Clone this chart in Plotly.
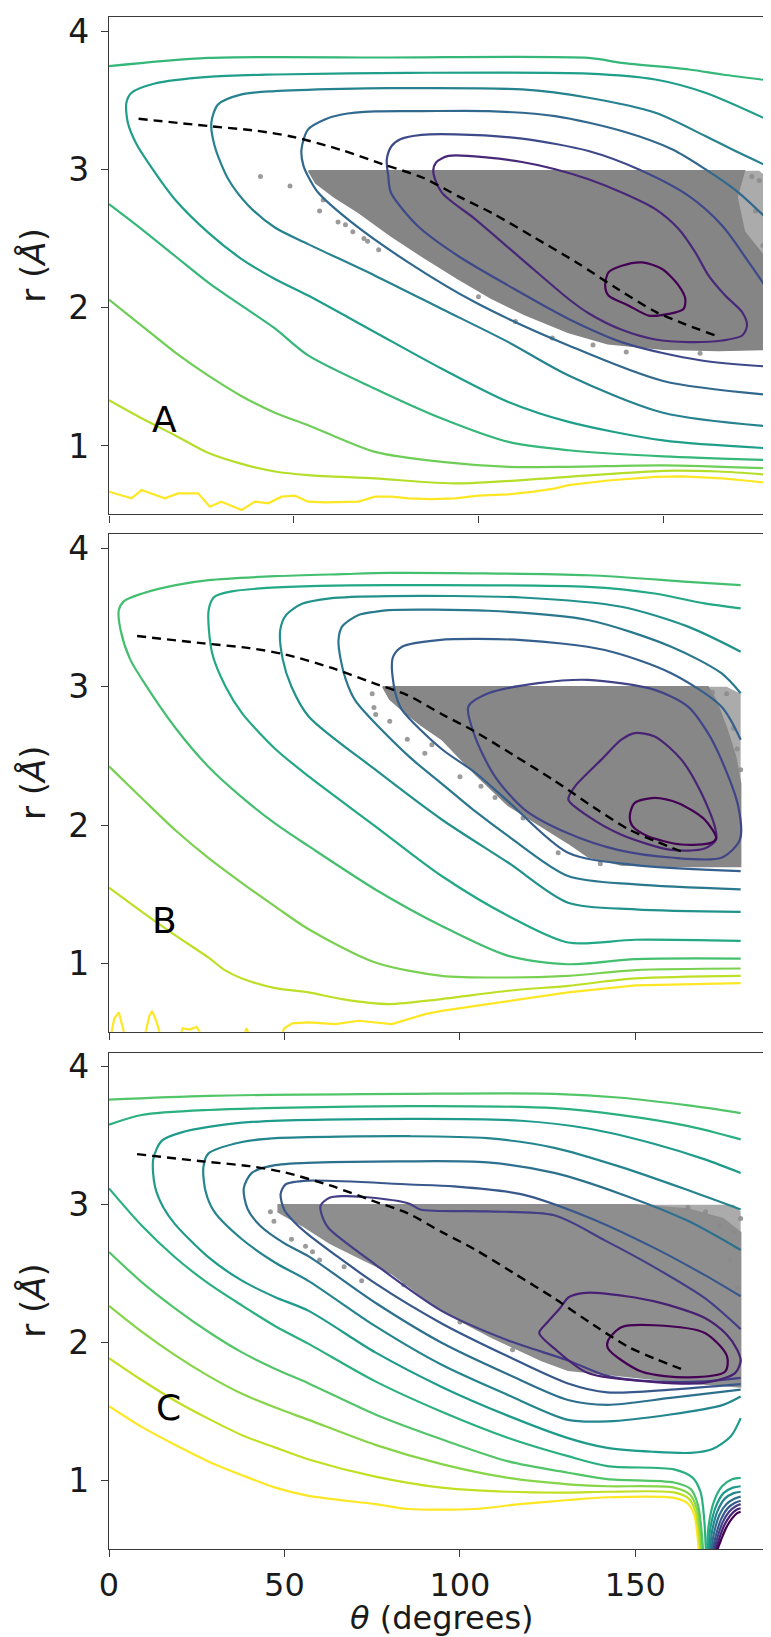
import plotly.graph_objects as go

# ---------------- shared data ----------------
x_ticks = [0, 50, 100, 150]
y_ticks = [1, 2, 3, 4]
panel_letters = ["A", "B", "C"]
letter_theta = [15.1, 15.8, 16.9]
letter_r = [1.19, 1.31, 1.53]

dash_theta = [8, 27, 40, 50, 63, 75, 85, 95, 104, 115, 127, 138, 148, 156, 164]
dash_r = [3.367, 3.314, 3.28, 3.235, 3.14, 3.03, 2.94, 2.80, 2.68, 2.51, 2.32, 2.13, 1.97, 1.88, 1.80]

# ---------------- panel A ----------------
a1_t = [134.3, 135.2, 138.8, 144.3, 149.7, 154.2, 156.0, 155.5, 151.5, 146.1, 140.7, 135.2, 134.3]
a1_r = [2.160, 2.256, 2.304, 2.328, 2.280, 2.160, 2.063, 1.991, 1.955, 1.943, 2.015, 2.088, 2.160]
a2_t = [87.8, 88.5, 91.9, 102.7, 111.8, 120.8, 129.8, 138.8, 147.9, 154.2, 158.7, 162.3, 166.8, 171.4, 172.7, 171.4, 166.0, 156.9, 147.9, 138.8, 129.8, 124.4, 111.7, 99.1, 90.1, 87.8]
a2_r = [2.977, 3.050, 3.098, 3.086, 3.054, 3.002, 2.929, 2.833, 2.713, 2.569, 2.400, 2.232, 2.088, 1.967, 1.871, 1.799, 1.763, 1.751, 1.770, 1.840, 1.960, 2.063, 2.352, 2.641, 2.833, 2.977]
a3_t = [180, 173.2, 166.0, 156.9, 143.3, 129.8, 111.8, 93.7, 84.6, 79.0, 76.5, 75.2, 75.6, 76.3, 83.5, 94.4, 108.1, 124.4, 140, 160, 180]
a3_r = [2.063, 2.328, 2.593, 2.809, 3.002, 3.134, 3.223, 3.254, 3.25, 3.22, 3.17, 3.074, 2.95, 2.833, 2.593, 2.376, 2.160, 1.919, 1.74, 1.62, 1.571]
a4_t = [180, 170.4, 161.4, 152.4, 138.8, 120.8, 102.7, 84.6, 72.0, 63.0, 58.4, 53.9, 52.1, 52.6, 54.5, 56.6, 65.7, 81.0, 99.1, 124.4, 150, 180]
a4_r = [2.593, 2.833, 3.002, 3.146, 3.278, 3.386, 3.422, 3.422, 3.420, 3.398, 3.362, 3.290, 3.146, 3.03, 2.92, 2.833, 2.617, 2.328, 2.039, 1.727, 1.47, 1.366]
a5_t = [180, 170.4, 161.4, 147.9, 129.8, 111.8, 75.6, 63.0, 44.9, 35.9, 29.5, 27.7, 28.6, 32.3, 37.7, 44.9, 53.9, 72.0, 90.1, 108.1, 124.4, 150, 180]
a5_r = [3.002, 3.122, 3.242, 3.410, 3.519, 3.579, 3.588, 3.583, 3.567, 3.543, 3.470, 3.338, 3.170, 2.929, 2.74, 2.58, 2.460, 2.232, 1.991, 1.751, 1.510, 1.24, 1.138]
a6_t = [180, 161.4, 147.9, 129.8, 81.0, 44.9, 26.8, 12.4, 6.1, 4.7, 5.1, 7.5, 10.6, 17.8, 26.8, 35.9, 44.9, 53.9, 72.0, 90.1, 108.1, 124.4, 150, 180]
a6_r = [3.338, 3.555, 3.651, 3.694, 3.699, 3.687, 3.670, 3.622, 3.555, 3.482, 3.338, 3.18, 3.050, 2.785, 2.545, 2.352, 2.208, 2.088, 1.823, 1.558, 1.318, 1.174, 1.04, 0.981]
a7t_t = [0, 26.8, 75.6, 129.8, 138.8, 157, 166, 180]
a7t_r = [3.747, 3.807, 3.810, 3.807, 3.771, 3.723, 3.687, 3.639]
a7b_t = [0, 8.8, 17.8, 26.8, 35.9, 44.9, 53.9, 72.0, 90.1, 108.1, 124.4, 150, 180]
a7b_r = [2.749, 2.569, 2.376, 2.184, 2.015, 1.85, 1.655, 1.414, 1.198, 1.029, 0.969, 0.925, 0.897]
a8_t = [0, 8.8, 17.8, 26.8, 35.9, 44.9, 53.9, 72.0, 90.1, 108.1, 124.4, 150, 180]
a8_r = [2.059, 1.871, 1.679, 1.510, 1.36, 1.24, 1.150, 0.957, 0.885, 0.849, 0.849, 0.86, 0.837]
a9_t = [0, 8.8, 17.8, 26.8, 35.9, 44.9, 53.9, 72.0, 94.6, 124.4, 150, 165, 180]
a9_r = [1.33, 1.2, 1.078, 0.95, 0.87, 0.815, 0.789, 0.765, 0.729, 0.777, 0.82, 0.815, 0.789]
a10_t = [0, 6.1, 8.8, 15.1, 18.7, 24.1, 27.3, 30.4, 35.9, 39.5, 43.1, 46.7, 50.3, 53.9, 58.4, 63, 67.5, 72, 76.5, 81, 87, 93.7, 100, 108, 115, 120.8, 124.4, 135, 147.9, 155, 166, 172, 180]
a10_r = [0.669, 0.621, 0.681, 0.621, 0.657, 0.657, 0.561, 0.597, 0.537, 0.597, 0.585, 0.633, 0.640, 0.597, 0.592, 0.597, 0.597, 0.633, 0.633, 0.621, 0.615, 0.621, 0.64, 0.65, 0.67, 0.693, 0.717, 0.75, 0.777, 0.78, 0.765, 0.75, 0.729]
a_gray_t = [54, 172, 170, 172, 178, 180, 180, 165, 150, 135, 124.4, 112.5, 103.4, 94.4, 85.4, 76.3, 67.5, 61, 56, 54]
a_gray_r = [2.99, 2.99, 2.8, 2.55, 2.35, 2.2, 1.70, 1.69, 1.70, 1.74, 1.82, 1.95, 2.07, 2.21, 2.36, 2.52, 2.69, 2.80, 2.90, 2.99]
a_light_t = [168, 176, 180, 180, 168]
a_light_r = [2.99, 2.99, 2.9, 1.9, 1.9]
a_dots_t = [41, 49, 58, 62, 66, 70, 73, 176, 178, 179, 175, 177, 179.5, 110, 120, 140, 160, 174, 57, 64, 69, 100, 131]
a_dots_r = [2.95, 2.88, 2.78, 2.62, 2.55, 2.48, 2.42, 2.92, 2.80, 2.62, 2.70, 2.45, 2.25, 1.90, 1.78, 1.68, 1.67, 2.95, 2.70, 2.60, 2.50, 2.08, 1.73]

# ---------------- panel B ----------------
b1_t = [148.4, 149.8, 155.5, 162.1, 169.7, 173.0, 171.6, 163.1, 153.6, 149.2, 148.4]
b1_r = [2.064, 2.160, 2.196, 2.160, 2.040, 1.907, 1.871, 1.859, 1.919, 1.992, 2.064]
b2_t = [130.9, 132.8, 140.3, 146.0, 149.8, 155.5, 163.1, 168.8, 172.6, 173.0, 169.7, 160.2, 146.0, 136.5, 130.9]
b2_r = [2.184, 2.280, 2.473, 2.617, 2.665, 2.641, 2.473, 2.232, 1.992, 1.895, 1.83, 1.82, 1.93, 2.064, 2.184]
b3_t = [102.4, 108.1, 122.3, 136.5, 155.5, 165.0, 170.7, 174.5, 179.3, 179.8, 174.5, 160, 145, 130.8, 118.5, 110, 104.3, 102.4]
b3_r = [2.857, 2.953, 3.026, 3.050, 2.978, 2.857, 2.665, 2.473, 2.136, 1.895, 1.763, 1.765, 1.82, 1.94, 2.11, 2.35, 2.64, 2.857]
b4_t = [180, 174.5, 160.2, 141.3, 117.6, 93.9, 83.5, 81.0, 80.6, 81.6, 83.5, 94.8, 104.3, 113.8, 130.8, 150, 180]
b4_r = [2.617, 2.857, 3.098, 3.266, 3.338, 3.338, 3.290, 3.22, 3.146, 2.953, 2.833, 2.55, 2.38, 2.17, 1.80, 1.71, 1.667]
b5_t = [180, 174.5, 160.2, 136.5, 108.1, 79.7, 75.9, 71.1, 66.4, 65.4, 66.0, 67.5, 70.2, 85.3, 94.8, 104.3, 113.8, 130.8, 150, 180]
b5_r = [2.953, 3.098, 3.290, 3.483, 3.550, 3.555, 3.543, 3.519, 3.435, 3.338, 3.20, 3.05, 2.90, 2.50, 2.30, 2.10, 1.92, 1.631, 1.57, 1.535]
b6_t = [180, 165, 146, 117.6, 79.7, 63, 55, 50.5, 48.8, 49.5, 52, 56.9, 75.9, 94.8, 113.8, 130.8, 150, 180]
b6_r = [3.254, 3.435, 3.579, 3.646, 3.656, 3.64, 3.60, 3.52, 3.41, 3.20, 3.0, 2.785, 2.40, 2.04, 1.727, 1.438, 1.39, 1.371]
b7_t = [180, 169.7, 155.5, 136.5, 79.7, 60, 45, 35, 30, 28.4, 29.4, 33.2, 37.9, 47.4, 56.9, 75.9, 94.8, 113.8, 130.8, 150, 180]
b7_r = [3.567, 3.603, 3.675, 3.723, 3.735, 3.73, 3.715, 3.69, 3.65, 3.555, 3.242, 3.002, 2.81, 2.55, 2.352, 1.991, 1.631, 1.342, 1.150, 1.17, 1.162]
b8_t = [180, 165, 136.5, 79.7, 66.4, 47.4, 28.4, 19, 9.5, 4.3, 2.8, 3.3, 6, 9.5, 19, 28.4, 37.9, 47.4, 56.9, 75.9, 94.8, 113.8, 130.8, 150, 180]
b8_r = [3.735, 3.759, 3.807, 3.824, 3.815, 3.80, 3.771, 3.735, 3.675, 3.62, 3.555, 3.411, 3.2, 3.05, 2.70, 2.42, 2.20, 2.01, 1.847, 1.534, 1.270, 1.053, 0.993, 1.03, 1.034]
b9_t = [0, 9.5, 19, 28.4, 37.9, 47.4, 56.9, 75.9, 94.8, 113.8, 130.8, 150, 180]
b9_r = [2.424, 2.19, 1.96, 1.76, 1.58, 1.41, 1.246, 1.005, 0.909, 0.897, 0.909, 0.95, 0.962]
b10_t = [0, 9.5, 19, 28.4, 33, 37.9, 47.4, 56.9, 66.4, 79.7, 94.8, 113.8, 130.8, 150, 180]
b10_r = [1.547, 1.37, 1.2, 1.04, 0.95, 0.89, 0.82, 0.789, 0.741, 0.705, 0.741, 0.801, 0.837, 0.89, 0.909]
b11_t = [0.3, 1.5, 2.8, 3.8, 4.8, None, 10, 11.5, 12.3, 13.5, 15, None, 20, 21, 23, 25, 27, None, 38, 39.2, 40.5, None,
         48.5, 50, 52.2, 56.9, 64.5, 71.1, 80.6, 90.1, 94.8, 113.8, 130.8, 150, 180]
b11_r = [0.45, 0.6, 0.645, 0.55, 0.45, None, 0.45, 0.62, 0.655, 0.58, 0.45, None, 0.45, 0.53, 0.52, 0.54, 0.45, None, 0.45, 0.53, 0.45, None,
         0.45, 0.53, 0.565, 0.572, 0.56, 0.584, 0.56, 0.632, 0.656, 0.729, 0.789, 0.84, 0.856]
b_gray_t = [78, 170.7, 173, 176, 178.5, 180, 180, 160, 146, 136.5, 130.8, 123.3, 113.8, 104.3, 94.8, 89, 84, 80, 78]
b_gray_r = [3.0, 3.0, 2.9, 2.7, 2.5, 2.3, 1.70, 1.70, 1.71, 1.77, 1.87, 1.99, 2.14, 2.37, 2.62, 2.72, 2.82, 2.91, 3.0]
b_light_t = [168, 176, 180, 180, 168]
b_light_r = [3.0, 3.0, 2.95, 2.2, 2.2]
b_dots_t = [75, 75.5, 76, 80, 85, 90, 100, 110, 118, 176, 178, 179, 180, 172, 128, 140, 92, 106]
b_dots_r = [2.95, 2.85, 2.80, 2.75, 2.62, 2.52, 2.35, 2.2, 2.05, 2.95, 2.7, 2.55, 2.4, 2.96, 1.80, 1.72, 2.58, 2.28]

# ---------------- panel C ----------------
c0_t = [142.2, 146, 155.5, 169.8, 176.1, 175.6, 165.1, 151.7, 142.2, 142.2]
c0_r = [2.015, 2.113, 2.127, 2.071, 1.903, 1.791, 1.749, 1.791, 1.959, 2.015]
c1_t = [122.6, 125, 128.5, 131, 135, 140, 155.5, 169.8, 176, 179, 180, 178.4, 169.8, 155.5, 136.5, 126.9, 122.6]
c1_r = [2.071, 2.15, 2.25, 2.33, 2.36, 2.36, 2.30, 2.18, 2.06, 1.95, 1.87, 1.78, 1.71, 1.715, 1.78, 1.959, 2.071]
c2_t = [180, 169.8, 155.5, 141.3, 126.9, 107.8, 88.7, 85.6, 76, 66.5, 62.7, 60.3, 61, 62.6, 75.9, 94.8, 113.8, 130.8, 142, 155, 170, 180]
c2_r = [2.099, 2.323, 2.546, 2.742, 2.924, 2.952, 2.966, 3.008, 3.049, 3.063, 3.05, 2.994, 2.90, 2.83, 2.567, 2.231, 2.016, 1.872, 1.76, 1.72, 1.72, 1.745]
c3_t = [180, 169.8, 155.5, 136.5, 117.4, 98.3, 85.6, 57, 50.3, 48.9, 50, 53, 56.9, 75.9, 94.8, 113.8, 130.8, 142, 160, 180]
c3_r = [2.337, 2.490, 2.686, 2.910, 3.077, 3.133, 3.147, 3.175, 3.147, 3.077, 2.96, 2.87, 2.782, 2.43, 2.14, 1.90, 1.705, 1.64, 1.66, 1.70]
c4_t = [180, 165.1, 146, 126.9, 107.8, 85.6, 47.4, 40.7, 38.4, 39.5, 43, 50, 56.9, 75.9, 94.8, 113.8, 130.8, 142, 160, 180]
c4_r = [2.672, 2.882, 3.077, 3.231, 3.307, 3.315, 3.287, 3.231, 3.119, 2.97, 2.85, 2.72, 2.626, 2.29, 2.00, 1.77, 1.585, 1.55, 1.60, 1.66]
c5_t = [180, 165.1, 146, 126.9, 107.8, 85.6, 47.4, 37.9, 28.3, 26.9, 27.5, 30, 37.9, 47.4, 56.9, 75.9, 94.8, 113.8, 130.8, 142, 160, 175, 180]
c5_r = [2.966, 3.105, 3.273, 3.413, 3.483, 3.497, 3.483, 3.455, 3.371, 3.273, 3.10, 2.95, 2.75, 2.58, 2.447, 2.12, 1.84, 1.62, 1.441, 1.43, 1.48, 1.55, 1.61]
c6_t = [180, 169.8, 155.5, 136.5, 117.4, 85.6, 37.9, 20.7, 15, 12.6, 13.1, 15.5, 18.8, 28.3, 37.9, 47.4, 56.9, 75.9, 94.8, 113.8, 130.8, 142, 155, 165.8, 172, 177.2, 180]
c6_r = [3.231, 3.329, 3.441, 3.553, 3.609, 3.623, 3.595, 3.525, 3.463, 3.329, 3.133, 2.98, 2.86, 2.62, 2.45, 2.33, 2.231, 1.93, 1.68, 1.47, 1.309, 1.238, 1.21, 1.202, 1.23, 1.322, 1.454]
c7t_t = [0, 9.3, 28.3, 85.6, 126.9, 146, 165.1, 180]
c7t_r = [3.581, 3.651, 3.687, 3.715, 3.700, 3.650, 3.57, 3.474]
c7b_t = [0, 9.3, 18.8, 28.3, 37.9, 47.4, 56.9, 75.9, 94.8, 113.8, 130.8, 142, 161, 166.3, 168.6, 169.6, 170.1]
c7b_r = [3.119, 2.85, 2.62, 2.43, 2.27, 2.12, 1.992, 1.72, 1.50, 1.31, 1.178, 1.106, 1.082, 1.022, 0.915, 0.723, 0.49]
c8t_t = [0, 28.3, 85.6, 126.9, 146, 165.1, 180]
c8t_r = [3.762, 3.79, 3.804, 3.804, 3.776, 3.720, 3.665]
c8b_t = [0, 9.3, 18.8, 28.3, 37.9, 47.4, 56.9, 75.9, 94.8, 113.8, 130.8, 142, 161, 165.8, 167.9, 168.8, 169.3]
c8b_r = [2.658, 2.44, 2.25, 2.08, 1.93, 1.81, 1.705, 1.48, 1.30, 1.14, 1.058, 1.011, 0.987, 0.939, 0.819, 0.651, 0.49]
c9_t = [0, 9.3, 18.8, 28.3, 37.9, 47.4, 56.9, 75.9, 94.8, 113.8, 130.8, 142, 161, 165.5, 167.5, 168.4, 168.9]
c9_r = [2.267, 2.08, 1.91, 1.76, 1.63, 1.53, 1.441, 1.26, 1.12, 1.02, 0.974, 0.96, 0.95, 0.90, 0.80, 0.65, 0.49]
c10_t = [0, 9.3, 18.8, 28.3, 37.9, 47.4, 56.9, 75.9, 94.8, 113.8, 130.8, 142, 161, 165.2, 167.1, 168, 168.5]
c10_r = [1.889, 1.73, 1.58, 1.45, 1.33, 1.24, 1.154, 1.03, 0.95, 0.92, 0.914, 0.92, 0.915, 0.87, 0.78, 0.64, 0.49]
c11_t = [0, 9.3, 18.8, 28.3, 37.9, 47.4, 56.9, 75.9, 85.3, 104.3, 117, 130.8, 142, 161, 164.9, 166.8, 167.6, 168.1]
c11_r = [1.540, 1.39, 1.26, 1.14, 1.04, 0.95, 0.890, 0.83, 0.795, 0.795, 0.83, 0.86, 0.88, 0.875, 0.835, 0.75, 0.62, 0.49]
# funnel branches rising to the right edge
cr7_t = [170.4, 170.9, 172.4, 174.7, 177.6, 180]
cr7_r = [0.49, 0.68, 0.85, 0.96, 1.01, 1.02]
cr6_t = [170.8, 171.4, 172.9, 175.1, 177.8, 180]
cr6_r = [0.49, 0.66, 0.81, 0.91, 0.95, 0.96]
cr5_t = [171.2, 171.9, 173.4, 175.5, 178.0, 180]
cr5_r = [0.49, 0.64, 0.78, 0.87, 0.91, 0.92]
cr4_t = [171.6, 172.4, 173.9, 175.9, 178.2, 180]
cr4_r = [0.49, 0.62, 0.75, 0.83, 0.87, 0.885]
cr3_t = [172.0, 172.9, 174.4, 176.3, 178.4, 180]
cr3_r = [0.49, 0.60, 0.72, 0.80, 0.84, 0.855]
cr2_t = [172.4, 173.4, 174.9, 176.7, 178.6, 180]
cr2_r = [0.49, 0.59, 0.70, 0.775, 0.815, 0.83]
cr1_t = [172.8, 173.9, 175.4, 177.1, 178.8, 180]
cr1_r = [0.49, 0.58, 0.68, 0.75, 0.79, 0.80]
cr0_t = [173.2, 174.4, 175.9, 177.5, 179.0, 180]
cr0_r = [0.49, 0.57, 0.66, 0.725, 0.765, 0.775]
c_gray_t = [48, 150, 165, 175, 180, 180, 165, 146, 136.5, 130.8, 123.3, 109, 94.8, 80.6, 71, 63, 55, 48]
c_gray_r = [3.0, 3.0, 2.97, 2.9, 2.8, 1.68, 1.71, 1.76, 1.79, 1.80, 1.87, 2.04, 2.23, 2.50, 2.62, 2.72, 2.85, 2.95]
c_light_t = [150, 178, 180, 180, 150]
c_light_r = [3.0, 3.0, 2.95, 2.3, 2.3]
c_dots_t = [46, 47, 52, 56, 60, 67, 72, 170, 174, 178, 180, 177, 179, 165, 100, 115, 84, 58]
c_dots_r = [2.95, 2.88, 2.75, 2.70, 2.60, 2.55, 2.45, 2.95, 2.85, 2.8, 2.9, 2.6, 2.4, 2.98, 2.15, 1.95, 2.42, 2.66]

# ---------------- colours (viridis levels) ----------------
vir_a = ["#440154", "#482878", "#3e4989", "#31688e", "#26828e", "#1f9e89", "#35b779", "#6ece58", "#b5de2b", "#fde725"]
vir_b = ["#440154", "#482475", "#414487", "#355f8d", "#2a788e", "#21918c", "#22a884", "#44bf70", "#7ad151", "#bddf26", "#fde725"]
vir_c = ["#440154", "#482173", "#433e85", "#38588c", "#2d708e", "#25858e", "#1e9b8a", "#2ab07f", "#52c569", "#86d549", "#c2df23", "#fde725"]

lines_a = [(a10_t, a10_r, vir_a[9], "linear"), (a9_t, a9_r, vir_a[8], "spline"), (a8_t, a8_r, vir_a[7], "spline"),
           (a7t_t, a7t_r, vir_a[6], "spline"), (a7b_t, a7b_r, vir_a[6], "spline"), (a6_t, a6_r, vir_a[5], "spline"),
           (a5_t, a5_r, vir_a[4], "spline"), (a4_t, a4_r, vir_a[3], "spline"), (a3_t, a3_r, vir_a[2], "spline"),
           (a2_t, a2_r, vir_a[1], "spline"), (a1_t, a1_r, vir_a[0], "spline")]
lines_b = [(b11_t, b11_r, vir_b[10], "linear"), (b10_t, b10_r, vir_b[9], "spline"), (b9_t, b9_r, vir_b[8], "spline"),
           (b8_t, b8_r, vir_b[7], "spline"), (b7_t, b7_r, vir_b[6], "spline"), (b6_t, b6_r, vir_b[5], "spline"),
           (b5_t, b5_r, vir_b[4], "spline"), (b4_t, b4_r, vir_b[3], "spline"), (b3_t, b3_r, vir_b[2], "spline"),
           (b2_t, b2_r, vir_b[1], "spline"), (b1_t, b1_r, vir_b[0], "spline")]
lines_c = [(c11_t, c11_r, vir_c[11], "spline"), (c10_t, c10_r, vir_c[10], "spline"), (c9_t, c9_r, vir_c[9], "spline"),
           (c8t_t, c8t_r, vir_c[8], "spline"), (c8b_t, c8b_r, vir_c[8], "spline"),
           (c7t_t, c7t_r, vir_c[7], "spline"), (c7b_t, c7b_r, vir_c[7], "spline"),
           (c6_t, c6_r, vir_c[6], "spline"), (c5_t, c5_r, vir_c[5], "spline"), (c4_t, c4_r, vir_c[4], "spline"),
           (c3_t, c3_r, vir_c[3], "spline"), (c2_t, c2_r, vir_c[2], "spline"), (c1_t, c1_r, vir_c[1], "spline"),
           (c0_t, c0_r, vir_c[0], "spline"),
           (cr7_t, cr7_r, vir_c[7], "spline"), (cr6_t, cr6_r, vir_c[6], "spline"), (cr5_t, cr5_r, vir_c[5], "spline"),
           (cr4_t, cr4_r, vir_c[4], "spline"), (cr3_t, cr3_r, vir_c[3], "spline"), (cr2_t, cr2_r, vir_c[2], "spline"),
           (cr1_t, cr1_r, vir_c[1], "spline"), (cr0_t, cr0_r, vir_c[0], "spline")]

panels = [
    dict(ax="", gray=(a_gray_t, a_gray_r), light=(a_light_t, a_light_r), dots=(a_dots_t, a_dots_r), lines=lines_a, fill="#858585"),
    dict(ax="2", gray=(b_gray_t, b_gray_r), light=(b_light_t, b_light_r), dots=(b_dots_t, b_dots_r), lines=lines_b, fill="#878787"),
    dict(ax="3", gray=(c_gray_t, c_gray_r), light=(c_light_t, c_light_r), dots=(c_dots_t, c_dots_r), lines=lines_c, fill="#8e8e8e"),
]

LIGHT = "#ababab"
fig = go.Figure()
for p in panels:
    xa, ya = "x" + p["ax"], "y" + p["ax"]
    fig.add_trace(go.Scatter(x=p["light"][0], y=p["light"][1], mode="lines", fill="toself",
                             fillcolor=LIGHT, line=dict(width=0, color=LIGHT),
                             xaxis=xa, yaxis=ya, hoverinfo="skip", showlegend=False))
    fig.add_trace(go.Scatter(x=p["gray"][0], y=p["gray"][1], mode="lines", fill="toself",
                             fillcolor=p["fill"], line=dict(width=1.5, color=p["fill"]),
                             xaxis=xa, yaxis=ya, hoverinfo="skip", showlegend=False))
    fig.add_trace(go.Scatter(x=p["dots"][0], y=p["dots"][1], mode="markers",
                             marker=dict(size=5, color="#8a8a8a", opacity=0.85),
                             xaxis=xa, yaxis=ya, hoverinfo="skip", showlegend=False))
    for t, r, col, shp in p["lines"]:
        ln = dict(color=col, width=2.2, shape=shp)
        if shp == "spline":
            ln["smoothing"] = 0.8
        fig.add_trace(go.Scatter(x=t, y=r, mode="lines", line=ln, connectgaps=False,
                                 xaxis=xa, yaxis=ya, hoverinfo="skip", showlegend=False))
    fig.add_trace(go.Scatter(x=dash_theta, y=dash_r, mode="lines",
                             line=dict(color="black", width=2.4, dash="9px,6px", shape="spline", smoothing=0.8),
                             xaxis=xa, yaxis=ya, hoverinfo="skip", showlegend=False))

# ---------------- layout ----------------
FONT = "DejaVu Sans"
W, H = 771, 1637
ML, MR, MT, MB = 101, 5, 4, 96
PH = H - MT - MB
domains = [[1 - 499 / PH, 1.0], [1 - 1018 / PH, 1 - 519 / PH], [0.0, 1 - 1039 / PH]]
x_ranges = [[0, 180], [0, 189.5], [0, 189.5]]
axis_style = dict(showline=True, linecolor="#3a3a3a", linewidth=1.3, mirror=True, ticks="outside",
                  ticklen=7, tickwidth=1.3, tickcolor="#3a3a3a", showgrid=False, zeroline=False,
                  tickfont=dict(family=FONT, size=33, color="#1a1a1a"))
layout = dict(width=W, height=H, margin=dict(l=ML, r=MR, t=MT, b=MB),
              plot_bgcolor="white", paper_bgcolor="white", showlegend=False)
for i, suf in enumerate(["", "2", "3"]):
    layout["xaxis" + suf] = dict(axis_style, range=x_ranges[i], tickvals=x_ticks, domain=[0, 1],
                                 anchor="y" + suf, showticklabels=(i == 2),
                                 tickfont=dict(family=FONT, size=32, color="#1a1a1a"))
    layout["yaxis" + suf] = dict(axis_style, range=[0.505, 4.103], tickvals=y_ticks, domain=domains[i],
                                 anchor="x" + suf, ticklabelstandoff=5)
fig.update_layout(**layout)

ann = []
for i, suf in enumerate(["", "2", "3"]):
    ann.append(dict(x=letter_theta[i], y=letter_r[i], xref="x" + suf, yref="y" + suf, text=panel_letters[i],
                    showarrow=False, font=dict(family=FONT, size=36, color="black")))
    ymid = (domains[i][0] + domains[i][1]) / 2
    ann.append(dict(x=(25 - ML) / (W - ML - MR), y=ymid, xref="paper", yref="paper", text="r (<i>Å</i>)",
                    textangle=-90, showarrow=False, xanchor="center", yanchor="middle",
                    font=dict(family=FONT, size=34, color="#1a1a1a")))
ann.append(dict(x=0.5, y=-(1610 - (H - MB)) / PH, xref="paper", yref="paper", text="<i>θ</i> (degrees)",
                showarrow=False, xanchor="center", yanchor="middle", font=dict(family=FONT, size=32, color="#1a1a1a")))
fig.update_layout(annotations=ann)

fig.write_html("out.html")
